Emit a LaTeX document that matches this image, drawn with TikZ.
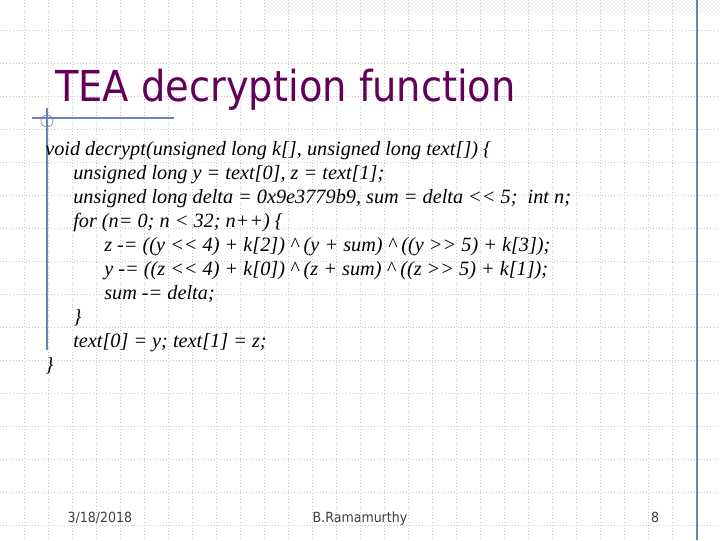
\documentclass[tikz,border=0pt]{standalone}
\usepackage{fontspec}
\setmainfont{Liberation Serif}
\newfontfamily\tahc{DejaVu Sans Condensed}
\usetikzlibrary{patterns}
\definecolor{gridc}{RGB}{200,200,200}
\definecolor{deco}{RGB}{110,130,180}
\definecolor{titlec}{RGB}{100,0,90}
\tikzset{codeline/.style={anchor=base west,inner sep=0pt,font=\fontsize{15.2}{18}\selectfont\itshape},
foot/.style={anchor=base,inner sep=0pt,font=\tahc\fontsize{10.5}{12}\selectfont,text=black!75}}
\begin{document}
\begin{tikzpicture}[x=0.75pt,y=-0.75pt]
\useasboundingbox (0,0) rectangle (720,540);
\fill[white] (0,0) rectangle (720,540);
\foreach \x in {24,48,...,720} \draw[gridc,dotted,line width=0.4pt] (\x,0) -- (\x,540);
\foreach \y in {30,63,...,540} \draw[gridc,dotted,line width=0.4pt] (0,\y) -- (720,\y);
\fill[pattern=crosshatch dots,pattern color=deco!50] (265,0) rectangle (720,13);
\draw[deco,line width=0.8pt] (697,0) -- (697,540);
\draw[deco,line width=0.8pt] (32,118) -- (174,118);
\draw[deco,line width=0.8pt] (47,108) -- (47,350);
\draw[deco,line width=0.5pt] (47,121) circle (6);
\node[anchor=base west,inner sep=0pt,text=titlec,font=\tahc\fontsize{32}{38}\selectfont] (title) at (55,101) {TEA decryption function};
\node[codeline] (l1) at (45,155) {void decrypt(unsigned long k[], unsigned long text[]) \{};
\node[codeline] (l2) at (73,179) {unsigned long y = text[0], z = text[1];};
\node[codeline] (l3) at (73,203) {unsigned long delta = 0x9e3779b9, sum = delta <{}< 5;\ \ int n;};
\node[codeline] (l4) at (73,227) {for (n= 0; n < 32; n++) \{};
\node[codeline] (l5) at (104,251) {z -= ((y <{}< 4) + k[2]) \^{} (y + sum) \^{} ((y >{}> 5) + k[3]);};
\node[codeline] (l6) at (104,275) {y -= ((z <{}< 4) + k[0]) \^{} (z + sum) \^{} ((z >{}> 5) + k[1]);};
\node[codeline] (l7) at (104,299) {sum -= delta;};
\node[codeline] (l8) at (73,323) {\}};
\node[codeline] (l9) at (73,347) {text[0] = y; text[1] = z;};
\node[codeline] (l10) at (45,371) {\}};
\node[foot] (date) at (100,522) {3/18/2018};
\node[foot] (auth) at (360,522) {B.Ramamurthy};
\node[foot] (page) at (655,522) {8};
\end{tikzpicture}
\end{document}
